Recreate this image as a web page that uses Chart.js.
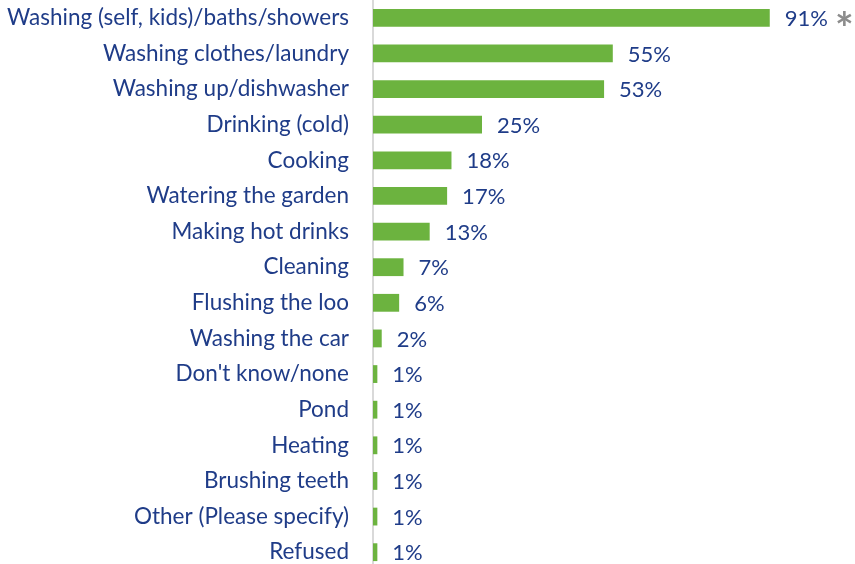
<!DOCTYPE html>
<html>
<head>
<meta charset="utf-8">
<script src="https://cdn.jsdelivr.net/npm/chart.js@4.4.0/dist/chart.umd.min.js"></script>
<style>
  html, body { margin: 0; padding: 0; background: #fff; overflow: hidden; }
  #wrap { width: 855px; height: 570px; position: relative; }
</style>
</head>
<body>
<div id="wrap"><canvas id="chart"></canvas></div>
<script>
const categories = [
  'Washing (self, kids)/baths/showers',
  'Washing clothes/laundry',
  'Washing up/dishwasher',
  'Drinking (cold)',
  'Cooking',
  'Watering the garden',
  'Making hot drinks',
  'Cleaning',
  'Flushing the loo',
  'Washing the car',
  "Don't know/none",
  'Pond',
  'Heating',
  'Brushing teeth',
  'Other (Please specify)',
  'Refused'
];
const shares = [91, 55, 53, 25, 18, 17, 13, 7, 6, 2, 1, 1, 1, 1, 1, 1];
// rows flagged with a grey asterisk after the value
const flagged = ['Washing (self, kids)/baths/showers'];

const textBlue = '#1f3c88';
const barGreen = '#6cb33f';
const valueFont = '22px Lato, sans-serif';

// value labels at the end of each bar
const valueLabels = {
  id: 'valueLabels',
  afterDatasetsDraw(chart) {
    const ctx = chart.ctx;
    const meta = chart.getDatasetMeta(0);
    ctx.save();
    ctx.textBaseline = 'middle';
    ctx.textAlign = 'left';
    meta.data.forEach((bar, i) => {
      const txt = shares[i] + '%';
      const x = bar.x + 15;
      ctx.font = valueFont;
      ctx.fillStyle = textBlue;
      ctx.fillText(txt, x, bar.y + 1);
      if (flagged.includes(categories[i])) {
        const w = ctx.measureText(txt).width;
        ctx.fillStyle = '#8c8c8c';
        ctx.font = 'bold 44px Lato, sans-serif';
        ctx.fillText('*', x + w + 7, bar.y + 12);
      }
    });
    ctx.restore();
  }
};

new Chart(document.getElementById('chart'), {
  type: 'bar',
  data: {
    labels: categories,
    datasets: [{
      data: shares,
      backgroundColor: barGreen,
      barPercentage: 0.5,
      categoryPercentage: 1.0
    }]
  },
  options: {
    indexAxis: 'y',
    responsive: true,
    maintainAspectRatio: false,
    animation: false,
    layout: { padding: { left: 0, right: 46, top: 0, bottom: 0 } },
    plugins: {
      legend: { display: false },
      tooltip: { enabled: false }
    },
    scales: {
      x: {
        display: false,
        min: 0,
        max: 100
      },
      y: {
        grid: { display: false },
        border: { display: true, color: '#d9d9d9', width: 2 },
        ticks: {
          color: textBlue,
          padding: 16,
          font: { family: 'Lato, sans-serif', size: 22.5 }
        },
        afterFit(scale) {
          scale.width = 373;
          scale.paddingTop = 0;
          scale.paddingBottom = 0;
        }
      }
    }
  },
  plugins: [valueLabels]
});
</script>
</body>
</html>
